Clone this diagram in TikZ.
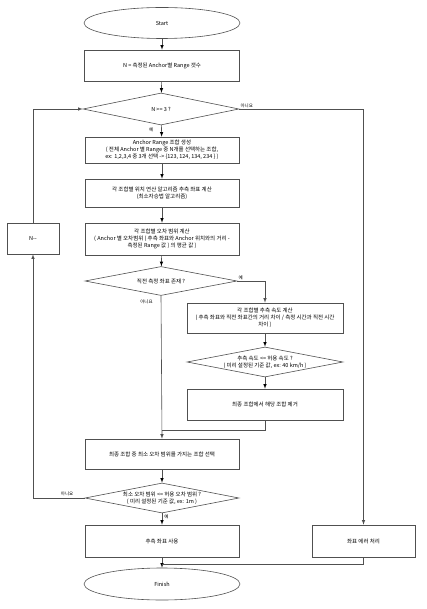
\documentclass[tikz,border=0pt]{standalone}
\usepackage{fontspec}
\setmainfont{Noto Sans CJK KR}
\usepackage{tikz}
\usetikzlibrary{arrows,shapes.geometric}
\definecolor{linegray}{HTML}{505050}

\begin{document}
\begin{tikzpicture}[x=1pt,y=-1pt,>=latex,
    every node/.style={font=\fontsize{5.5}{7}\selectfont,align=center,inner sep=0pt},
    proc/.style={draw=linegray,line width=0.6pt,rectangle,minimum width=154pt,minimum height=30pt},
    term/.style={draw=linegray,line width=0.6pt,ellipse,minimum width=156pt,minimum height=31pt},
    decide/.style={draw=linegray,line width=0.6pt,diamond,aspect=5,minimum width=156pt,minimum height=31pt},
    flow/.style={draw=linegray,line width=0.6pt},
    tag/.style={font=\fontsize{4.5}{5}\selectfont}]
  \useasboundingbox (0,0) rectangle (426,609);

      \draw (162,23) node[term] (start) {Start};
  \draw (162,65.5) node[proc,minimum width=155pt,minimum height=31pt] (count) {N = 측정된 Anchor별 Range 갯수};
      \draw (161,109) node[decide,minimum height=32pt] (enough) {N >= 3 ?};
  \draw (162,150) node[proc,minimum height=26pt] (combo) {Anchor Range 조합 생성\\( 전체 Anchor 별 Range 중 N개를 선택하는 조합,\\ex: 1,2,3,4 중 3개 선택 -> \{123, 124, 134, 234 \} )};
      \draw (162,193) node[proc,minimum height=28pt] (solve) {각 조합별 위치 연산 알고리즘 추측 좌표 계산\\(최소자승법 알고리즘)};
  \draw (162,239) node[proc,minimum height=32pt] (error) {각 조합별 오차 범위 계산\\( Anchor 별 오차범위 ( 추측 좌표와 Anchor 위치와의 거리 -\\측정된 Range 값 ) 의 평균 값 )};
      \draw (161,281) node[decide,minimum width=152pt,minimum height=29pt] (prev) {직전 측정 좌표 존재 ?};
  \draw (265,318) node[proc,minimum width=156pt] (speed) {각 조합별 추측 속도 계산\\( 추측 좌표와 직전 좌표간의 거리 차이 / 측정 시간과 직전 시간\\차이 )};
      \draw (265,362) node[decide,minimum height=30pt] (fast) {추측 속도 <= 허용 속도 ?\\( 미리 설정된 기준 값, ex: 40 km/h )};
  \draw (265,404.5) node[proc,minimum width=156pt,minimum height=31pt] (drop) {최종 조합에서 해당 조합 제거};
      \draw (162,454) node[proc] (pick) {최종 조합 중 최소 오차 범위를 가지는 조합 선택};
  \draw (162,498) node[decide,minimum width=154pt,minimum height=30pt] (check) {최소 오차 범위 <= 허용 오차 범위 ?\\( 미리 설정된 기준 값, ex: 1m )};
      \draw (162,541) node[proc,minimum height=32pt] (use) {추측 좌표 사용};
  \draw (363.5,541) node[proc,minimum width=103pt,minimum height=32pt] (fail) {좌표 에러 처리};
      \draw (162,584) node[term,minimum height=32pt] (finish) {Finish};
  \draw (33,238.5) node[proc,minimum width=52pt,minimum height=31pt] (dec) {N-{}-};

  \coordinate (noturn) at (363.5,109);
  \coordinate (merge) at (162,430);
  \coordinate (fjoin) at (162,564);

      \path[flow,->] (start) edge (count);
      \path[flow,->] (count) edge (enough);
      \path[flow,->] (enough) edge node[tag,pos=0.4,left=8pt] (yes1) {예} (combo);
      \path[flow,->] (combo) edge (solve);
      \path[flow,->] (solve) edge (error);
      \path[flow,->] (error) edge (prev);
      \path[flow,->] (speed) edge (fast);
      \path[flow,->] (fast) edge (drop);
      \path[flow,->] (pick) edge (check);
      \path[flow,->] (check) edge node[tag,pos=0.3,right=2pt] (yes4) {예} (use);
      \path[flow,->] (use) edge (finish);

  \draw[flow,->] (enough.east) node[tag,above right=1pt] (no1) {아니요} -- (noturn) -- (fail.north);
  \draw[flow,->] (prev.east) node[tag,above right=1pt] (yes2) {예} -| (speed.north);
  \draw[flow,->] (prev.south) node[tag,anchor=north east,xshift=-8pt,yshift=-4pt] (no2) {아니요} -- (pick.north);
  \draw[flow] (drop.south) |- (merge);
  \draw[flow,->] (check.west) -| node[tag,pos=0.17,above=2pt] (no4) {아니요} (dec.south);
  \draw[flow,->] (dec.north) |- (enough.west);
  \draw[flow] (fail.south) |- (fjoin);
\end{tikzpicture}
\end{document}
